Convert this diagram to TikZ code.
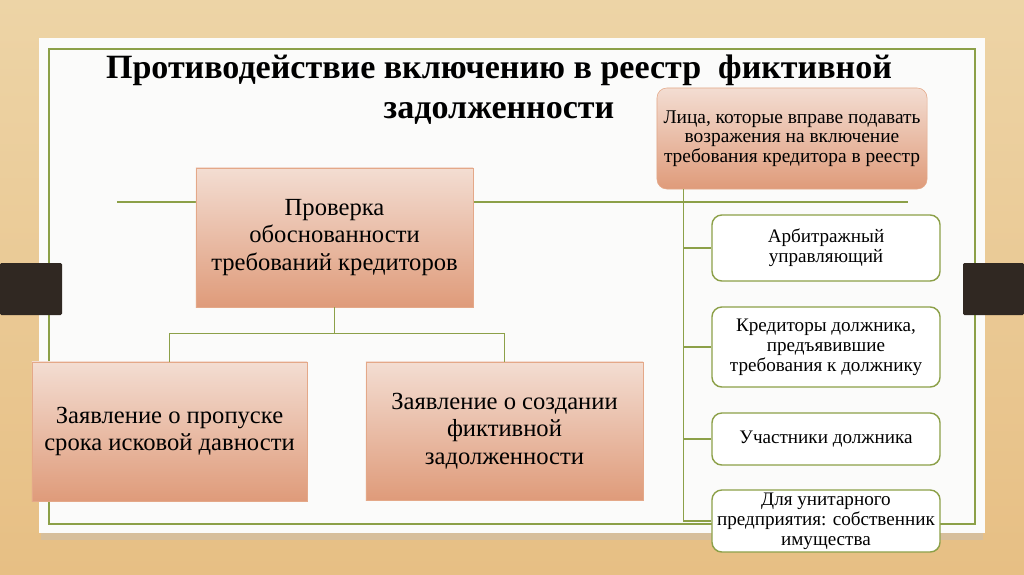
\documentclass[tikz,border=0pt]{standalone}
\usepackage{fontspec}
\setmainfont{Liberation Serif}
\usetikzlibrary{positioning, calc}
\definecolor{wood}{RGB}{231,191,132}
\definecolor{woodlight}{RGB}{237,212,166}
\definecolor{slide}{RGB}{251,251,250}
\definecolor{olive}{RGB}{140,160,72}
\definecolor{ortop}{RGB}{243,221,210}
\definecolor{orbot}{RGB}{223,155,122}
\definecolor{orline}{RGB}{228,168,136}
\definecolor{tab}{RGB}{48,40,34}
\tikzset{
  orbox/.style={rectangle, draw=orline, top color=ortop, bottom color=orbot,
                align=center, inner sep=2pt, font=\fontsize{17.5}{19.5}\selectfont},
  whobox/.style={orbox, rounded corners=7pt, font=\fontsize{13.8}{13.8}\selectfont},
  sidebox/.style={rectangle, draw=olive, line width=1pt, fill=white, rounded corners=7pt,
                  align=center, inner sep=1pt, minimum width=5.7cm,
                  font=\fontsize{13.6}{14.2}\selectfont},
  link/.style={draw=olive, line width=1pt},
  tabbar/.style={fill=tab, rounded corners=1pt},
}

\begin{document}
\begin{tikzpicture}[x=0.025cm, y=-0.025cm]
  \shade[top color=woodlight, bottom color=wood] (0,0) rectangle (1024,574);
  \useasboundingbox (0,0) rectangle (1024,574);
  \fill[black!25, opacity=.4] (41,41) rectangle (983,540);
  \fill[slide] (39,38) rectangle (985,533);
  \draw[olive, line width=0.8pt] (49,49) rectangle (975,524);
  \fill[tabbar] (0,263) rectangle (62,315);
  \fill[tabbar] (963,263) rectangle (1024,315);

  \node[font=\bfseries\fontsize{24.2}{28.5}\selectfont, align=center] (title) at (499,90)
    {Противодействие включению в реестр~ фиктивной\\задолженности};

  \coordinate (hl) at (117,202);
  \coordinate (hr) at (908,202);
  \draw[link] (hl) -- (hr);

  \node[orbox, minimum width=6.925cm, minimum height=3.475cm] (check) at (334.5,237.5)
    {Проверка\\обоснованности\\требований кредиторов};
  \node[orbox, minimum width=6.875cm, minimum height=3.475cm] (omit) at (169.5,431.5)
    {Заявление о пропуске\\срока исковой давности};
  \node[orbox, minimum width=6.925cm, minimum height=3.45cm] (fake) at (504.5,431)
    {Заявление о создании\\фиктивной\\задолженности};
  \draw[link] (check.south) -- ++(0,26) coordinate (fork) -| (omit.north);
  \draw[link] (fork) -| (fake.north);

  \node[whobox, minimum width=6.75cm, minimum height=2.525cm] (who) at (792,138.5)
    {Лица, которые вправе подавать\\возражения на включение\\требования кредитора в реестр};
  \coordinate (spine) at ([xshift=0.675cm]who.south west);

  \node[sidebox, minimum height=1.65cm] (au) at (826,248) {Арбитражный\\управляющий};
  \node[sidebox, minimum height=2cm] (cred) at (826,347)
    {Кредиторы должника,\\предъявившие\\требования к должнику};
  \node[sidebox, minimum height=1.3cm] (memb) at (826,439) {Участники должника};
  \node[sidebox, minimum height=1.55cm] (owner) at (826,521)
    {Для унитарного\\предприятия: собственник\\имущества};
  \draw[link] (spine) |- (owner.west);
  \foreach \n in {au, cred, memb}
    \draw[link] (spine |- \n.west) -- (\n.west);
\end{tikzpicture}
\end{document}
